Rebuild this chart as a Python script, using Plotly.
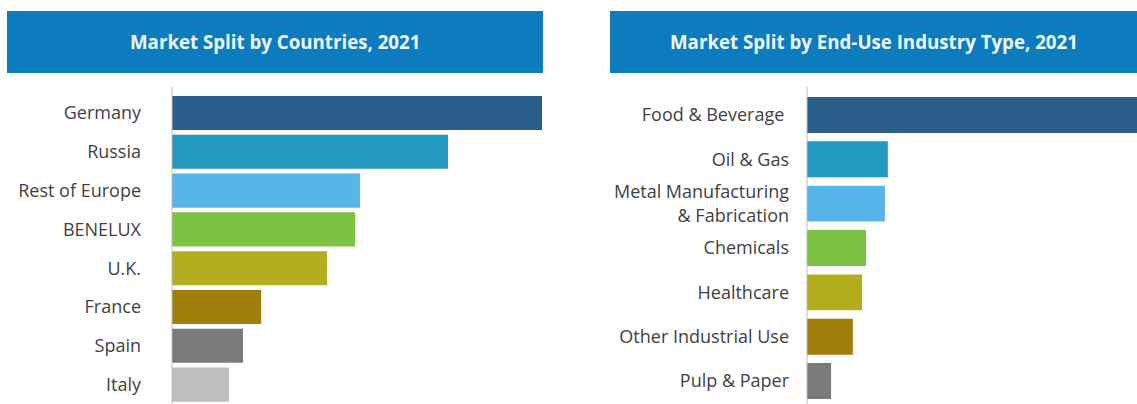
import plotly.graph_objects as go

# Market split by country (relative share, largest = 100)
countries = ["Germany", "Russia", "Rest of Europe", "BENELUX", "U.K.", "France", "Spain", "Italy"]
country_values = [100, 74.6, 50.8, 49.5, 41.9, 24.1, 19.2, 15.4]

# Market split by end-use industry (relative share, largest = 100)
industries = ["Food & Beverage ", "Oil & Gas", "Metal Manufacturing<br>& Fabrication",
              "Chemicals", "Healthcare", "Other Industrial Use", "Pulp & Paper"]
industry_values = [100, 24.5, 23.6, 17.9, 16.7, 13.9, 7.3]

titles = ["Market Split by Countries, 2021", "Market Split by End-Use Industry Type, 2021"]

palette = ["#2C5E8C", "#2398C0", "#56B6E8", "#7DC242", "#B2AE1E", "#A27E0C", "#7A7A7A", "#BEBEBE"]

W, H = 1137, 404
FONT = "Open Sans"
TEXT = "#3F3F3F"
AXIS = "#BDBDBD"

fig = go.Figure()

fig.add_trace(go.Bar(
    x=country_values, y=countries, orientation="h", width=0.88,
    marker=dict(color=palette[:len(countries)], line=dict(width=0)),
    xaxis="x", yaxis="y", showlegend=False, hoverinfo="x+y",
))
fig.add_trace(go.Bar(
    x=industry_values, y=industries, orientation="h", width=0.81,
    marker=dict(color=palette[:len(industries)], line=dict(width=0)),
    xaxis="x2", yaxis="y2", showlegend=False, hoverinfo="x+y",
))

def px_x(v):
    return v / W

def px_y(v):
    return 1 - v / H

hidden_x = dict(showgrid=False, zeroline=False, showticklabels=False, showline=False, fixedrange=True)
cat_y = dict(autorange="reversed", showgrid=False, zeroline=False, showline=False, ticks="",
             tickfont=dict(size=18, color=TEXT), fixedrange=True)

fig.update_layout(
    width=W, height=H,
    margin=dict(l=0, r=0, t=0, b=0),
    paper_bgcolor="white", plot_bgcolor="white",
    font=dict(family=FONT, color=TEXT, size=18),
    xaxis=dict(domain=[px_x(172), px_x(542)], range=[0, 100], anchor="y", **hidden_x),
    yaxis=dict(domain=[px_y(404), px_y(93.6)], anchor="x", ticklabelstandoff=30, **cat_y),
    xaxis2=dict(domain=[px_x(807), 1.0], range=[0, 100], anchor="y2", **hidden_x),
    yaxis2=dict(domain=[px_y(403.2), px_y(92.8)], anchor="x2", ticklabelstandoff=17, **cat_y),
)

# thin baseline at the start of each bar group, reaching a little above the first bar
for xpix in (172, 807):
    fig.add_shape(type="line", xref="paper", yref="paper",
                  x0=px_x(xpix), x1=px_x(xpix), y0=0, y1=px_y(87),
                  line=dict(color=AXIS, width=1), layer="above")

# header banners
banners = [(7, 543), (610, 1137)]
for (x0, x1), title in zip(banners, titles):
    fig.add_shape(type="rect", xref="paper", yref="paper",
                  x0=px_x(x0), x1=px_x(x1), y0=px_y(73), y1=px_y(11),
                  fillcolor="#0C7CBE", line=dict(width=0), layer="below")
    fig.add_annotation(xref="paper", yref="paper", x=px_x((x0 + x1) / 2), y=px_y(42),
                       text="<b>" + title + "</b>", showarrow=False,
                       font=dict(family=FONT, size=18.7, color="#EEFAFF"),
                       xanchor="center", yanchor="middle")

fig.write_html("out.html")
